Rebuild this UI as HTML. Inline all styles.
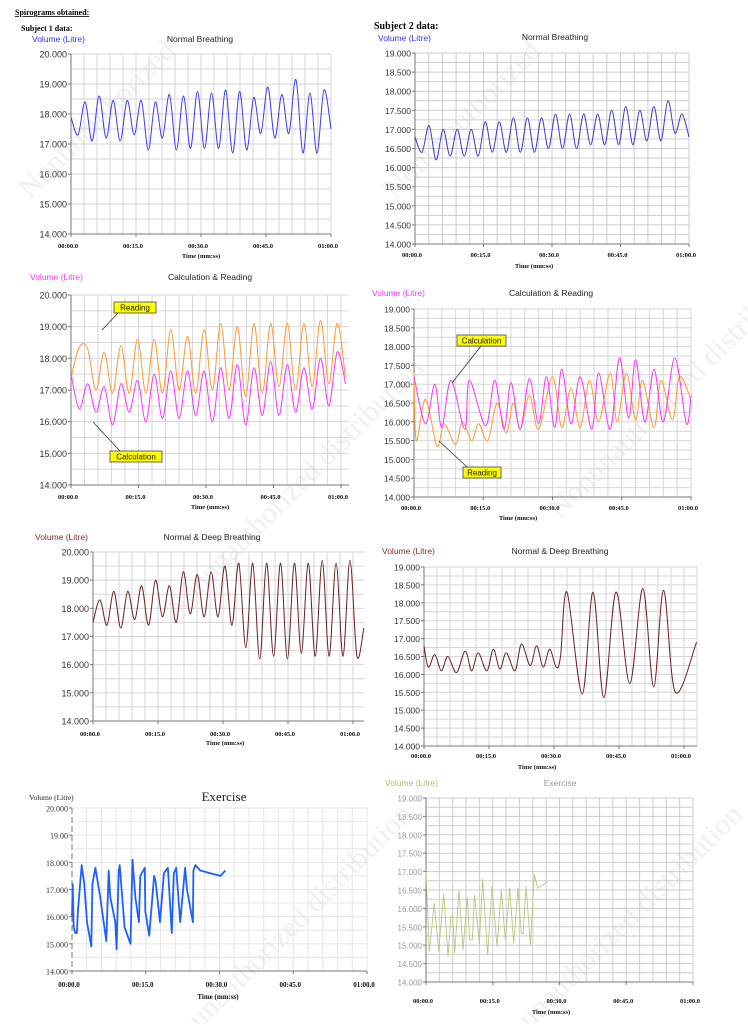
<!DOCTYPE html>
<html><head><meta charset="utf-8">
<style>
html,body{margin:0;padding:0;background:#fff;}
#page{position:relative;width:748px;height:1024px;overflow:hidden;background:#fff;}
svg{position:absolute;left:0;top:0;}
</style></head>
<body>
<div id="page">
<svg id="svg" width="748" height="1024" viewBox="0 0 748 1024">
  <g fill="#f0f0f0" font-family="Liberation Serif, serif" font-size="30">
    <text x="30" y="200" transform="rotate(-45 30 200)">Nonunauthorized</text>
    <text x="395" y="200" transform="rotate(-45 395 200)">Nonunauthorized</text>
    <text x="175" y="620" transform="rotate(-45 175 620)">Nonunauthorized distribution</text>
    <text x="560" y="520" transform="rotate(-45 560 520)">Nonunauthorized distribution</text>
    <text x="200" y="1030" transform="rotate(-45 200 1030)">unauthorized distribution</text>
    <text x="530" y="1030" transform="rotate(-45 530 1030)">unauthorized distribution</text>
  </g>
  <text x="15" y="15" font-family="Liberation Serif, serif" font-weight="bold" font-size="8" text-decoration="underline">Spirograms obtained:</text>
  <text x="21" y="31" font-family="Liberation Serif, serif" font-weight="bold" font-size="8">Subject 1 data:</text>
  <text x="374" y="29" font-family="Liberation Serif, serif" font-weight="bold" font-size="10">Subject 2 data:</text>
</svg>
</div>
<script>
// ---- data arrays ----
const s1NormalValues = [17.9,17.3,18.4,17.1,18.6,17.2,18.45,17.1,18.45,17.3,18.45,16.8,18.4,17.2,18.65,16.8,18.6,16.85,18.75,16.85,18.7,16.85,18.8,16.7,18.75,16.8,18.55,17.35,18.9,17.2,18.65,17.35,19.15,16.7,18.7,16.7,18.8,17.5];
const s2NormalValues = [16.8,16.4,17.1,16.2,17.0,16.3,17.0,16.3,17.0,16.3,17.2,16.4,17.2,16.4,17.3,16.4,17.3,16.4,17.3,16.5,17.4,16.5,17.4,16.5,17.4,16.6,17.4,16.6,17.5,16.6,17.6,16.6,17.5,16.7,17.6,16.7,17.75,16.9,17.4,16.8];
const s1ReadingValues = [17.4,18.35,18.3,17.0,18.2,16.9,18.4,16.9,18.6,16.9,18.6,16.9,18.9,17.0,18.7,16.9,18.9,17.0,19.1,17.0,19.0,16.8,19.1,16.9,19.1,17.1,19.1,17.0,19.1,17.1,19.2,17.2,19.1,17.4];
const s1CalcValues = [17.5,16.4,17.2,16.3,17.1,15.9,17.2,16.3,17.3,16.0,17.5,16.1,17.6,16.1,17.6,16.2,17.6,16.0,17.7,16.1,17.8,15.9,17.7,16.2,17.9,16.2,17.8,16.3,17.7,16.4,18.0,16.5,18.2,17.2];
const s2CalcTimes = [0,2.5,4.5,6,8,11,12,15.5,17.5,19.5,21,23,25,27,28.7,30.5,32,34,36,38.5,40,42.5,44.5,46.5,48,50,52,54,56.5,59,60];
const s2CalcValues = [17.2,15.95,17.0,15.85,17.1,15.8,17.1,15.9,17.1,15.8,17.05,15.8,17.15,15.95,17.2,15.85,17.4,15.95,17.2,15.8,17.3,15.8,17.7,16.1,17.65,16.0,17.4,16.0,17.7,15.95,16.7];
const s2ReadingTimes = [0,0.5,2.5,5,6.5,9,10.5,12.5,14,16,18,20,21.5,23,25,27,30,32,34,36,38,40,42.5,44,46,48,49.5,52,53.5,56,57.5,60];
const s2ReadingValues = [17.3,15.5,16.6,15.35,15.95,15.4,16.0,15.5,15.95,15.5,16.5,15.7,16.5,15.8,16.7,15.8,17.2,15.85,16.9,15.85,17.1,16.0,17.3,16.0,17.3,16.05,17.1,15.85,17.1,16.05,17.2,16.6];
const s1DeepValues = [17.5,18.3,17.4,18.6,17.3,18.6,17.6,18.8,17.4,19.0,17.7,18.8,17.5,19.3,17.8,19.2,17.7,19.3,17.7,19.5,17.4,19.6,16.6,19.6,16.2,19.6,16.3,19.6,16.2,19.6,16.4,19.6,16.3,19.7,16.3,19.6,16.3,19.7,16.3,17.3];
const s2DeepTimes = [0,1,2.5,4,5.5,7.5,9.5,11,12.5,14.5,16,17.5,19,21,22.5,24.5,26,27.5,29,30.5,31.5,33,36.5,39,41.5,44.3,47.5,50.5,53,55.3,58,62.9];
const s2DeepValues = [16.8,16.2,16.55,16.1,16.5,16.05,16.65,16.1,16.6,16.1,16.7,16.15,16.6,16.1,16.85,16.25,16.8,16.2,16.7,16.2,16.5,18.3,15.45,18.3,15.35,18.3,15.75,18.4,15.65,18.35,15.5,16.9];
const s1ExTimes = [0,0.14,0.34,0.68,1.0,1.2,1.97,2.5,3.05,3.93,4.14,4.75,5.76,6.98,7.46,7.8,8.8,9.08,9.5,9.7,10.7,11.9,12.3,12.9,13.6,13.9,14.8,14.9,15.7,16.7,17.0,17.9,18.7,19.5,20.3,20.7,21.2,22.0,23.0,23.4,24.6,24.7,25.1,26.1,28.1,30.2,31.2];
const s1ExValues = [16.0,17.2,15.6,15.4,15.4,16.2,17.9,17.2,15.8,14.9,17.2,17.8,16.7,15.1,17.7,16.7,15.8,14.8,17.7,17.9,15.6,15.0,18.1,16.7,15.8,17.5,17.8,16.2,15.3,17.5,17.3,15.8,17.6,17.8,15.4,17.6,17.8,15.8,17.8,17.0,15.8,17.7,17.9,17.7,17.6,17.5,17.7];
const s2ExTimes = [0,0.75,1.87,2.85,3.97,4.95,5.62,6.0,6.44,7.42,8.31,9.29,9.81,10.4,10.9,11.99,12.73,13.86,14.83,15.96,16.93,17.83,18.8,19.7,20.67,21.42,21.8,22.5,23.45,24.34,25.09,27.34];
const s2ExValues = [17.0,14.83,16.14,14.83,16.4,14.7,15.78,15.8,14.8,16.5,14.87,16.3,15.15,15.15,16.35,15.05,16.8,14.74,16.6,14.97,16.5,15.15,16.55,15.05,16.55,15.33,15.3,16.6,15.0,16.93,16.55,16.73];
const xTickLabels = ["00:00.0","00:15.0","00:30.0","00:45.0","01:00.0"];
const xTickTimes = [0,15,30,45,60];

const NS = "http://www.w3.org/2000/svg";
const svg = document.getElementById('svg');
function mk(tag, attrs, parent){ const e=document.createElementNS(NS,tag); for(const k in attrs) e.setAttribute(k,attrs[k]); (parent||svg).appendChild(e); return e; }

function drawChart(c){
  const g = mk('g',{});
  
  
  const xs = t => c.x0 + t/60*(c.x60 - c.x0);
  const ys = v => c.yb - (v - c.ymin)/(c.ymax - c.ymin)*(c.yb - c.yt);
  const xEnd = c.x1;
  const grid = mk('g',{stroke:c.grid||'#d6d6d6','stroke-width':1},g);
  
  
  for(let t=3; xs(t)<=xEnd+0.5; t+=3){ mk('line',{x1:xs(t),x2:xs(t),y1:c.yt,y2:c.yb},grid); }
  const half = c.step/2;
  for(let v=c.ymin+half; v<=c.ymax+1e-6; v+=half){ mk('line',{x1:c.x0,x2:xEnd,y1:ys(v),y2:ys(v)},grid); }
  const ax = mk('g',{stroke:'#777','stroke-width':1},g);
  
  
  mk('line',{x1:c.x0,x2:c.x0,y1:c.yt,y2:c.yb, 'stroke-dasharray': c.dashY?'6 3':'none'},ax);
  mk('line',{x1:c.x0,x2:xEnd,y1:c.yb,y2:c.yb},ax);
  for(let v=c.ymin; v<=c.ymax+1e-6; v+=c.step){
    mk('line',{x1:c.x0-3,x2:c.x0,y1:ys(v),y2:ys(v)},ax);
    const lbl = (c.yLabelFn?c.yLabelFn(v):v.toFixed(3));
    const tx = mk('text',{x:c.x0-4,y:ys(v)+3.5,'text-anchor':'end','font-size':c.yfs||9,'font-family':c.serif?'Liberation Serif, serif':'Liberation Sans, sans-serif',fill:c.yfill||'#333'},g);
    
    
    tx.textContent = lbl;
  }
  xTickLabels.forEach((l,i)=>{
    const x = xs(xTickTimes[i]);
    mk('line',{x1:x,x2:x,y1:c.yb,y2:c.yb+3},ax);
    const tx = mk('text',{x:x-3,y:c.xly,'text-anchor':'middle','font-size':c.xfs||6.5,'font-weight':'bold','font-family':'Liberation Serif, serif',fill:'#111'},g);
    
    
    tx.textContent = l;
  });
  const xt = mk('text',{x:c.xtx,y:c.xty,'text-anchor':'middle','font-size':c.xfs||6.5,'font-weight':'bold','font-family':'Liberation Serif, serif',fill:'#111'},g);
  
  
  xt.textContent = 'Time (mm:ss)';
  const yt = mk('text',{x:c.ylx,y:c.yly,'font-size':c.ylfs||8.5,'font-family':c.serif?'Liberation Serif, serif':'Liberation Sans, sans-serif',fill:c.ylColor},g);
  
  
  yt.textContent = 'Volume (Litre)';
  const tt = mk('text',{x:c.tx,y:c.ty,'text-anchor':'middle','font-size':c.tfs||8.5,'font-family':c.serif?'Liberation Serif, serif':'Liberation Sans, sans-serif',fill:c.tColor||'#222'},g);
  
  
  tt.textContent = c.title;
  c.series.forEach(s=>{
    const n = s.values.length;
    const pts = s.values.map((v,i)=>[xs(s.times? s.times[i] : s.tEnd*i/(n-1)), ys(v)]);
    let d = 'M'+pts[0][0].toFixed(1)+','+pts[0][1].toFixed(1);
    if(s.smooth){
      for(let i=0;i<n-1;i++){
        const p0=pts[Math.max(0,i-1)],p1=pts[i],p2=pts[i+1],p3=pts[Math.min(n-1,i+2)];
        const c1=[p1[0]+(p2[0]-p0[0])/6,p1[1]+(p2[1]-p0[1])/6];
        const c2=[p2[0]-(p3[0]-p1[0])/6,p2[1]-(p3[1]-p1[1])/6];
        d+=' C'+c1[0].toFixed(1)+','+c1[1].toFixed(1)+' '+c2[0].toFixed(1)+','+c2[1].toFixed(1)+' '+p2[0].toFixed(1)+','+p2[1].toFixed(1);
      }
    } else { for(let i=1;i<n;i++) d+=' L'+pts[i][0].toFixed(1)+','+pts[i][1].toFixed(1); }
    const p = mk('path',{d:d,fill:'none',stroke:s.color,'stroke-width':s.w||1,'stroke-linejoin':'round'},g);
    
    
  });
  (c.notes||[]).forEach(nt=>{
    const ng = mk('g',{},g);
    
    
    mk('line',{x1:nt.lx1,y1:nt.ly1,x2:nt.lx2,y2:nt.ly2,stroke:'#333','stroke-width':0.8},ng);
    mk('rect',{x:nt.x,y:nt.y,width:nt.w,height:11,fill:'#ffff00',stroke:'#444','stroke-width':0.8},ng);
    const t = mk('text',{x:nt.x+nt.w/2,y:nt.y+8.5,'text-anchor':'middle','font-size':8,'font-family':'Liberation Sans, sans-serif',fill:'#111'},ng);
    t.textContent = nt.text;
  });
}

drawChart({name:'s1-normal-breathing-chart',title:'Normal Breathing',x0:71,x60:331,x1:331,yt:54,yb:234,ymin:14,ymax:20,step:1,xly:248,xtx:201,xty:258,ylx:32,yly:42,ylColor:'#3333ff',tx:200,ty:42,
  series:[{name:'s1-normal-line',values:s1NormalValues,tEnd:60,color:'#3a3aff',smooth:true}]});
drawChart({name:'s2-normal-breathing-chart',title:'Normal Breathing',x0:415,x60:689,x1:689,yt:53,yb:244,ymin:14,ymax:19,step:0.5,xly:257,xtx:534,xty:268,ylx:378,yly:41,ylColor:'#3333ff',tx:555,ty:40,yfs:8.5,grid:'#cdcdcd',
  series:[{name:'s2-normal-line',values:s2NormalValues,tEnd:60,color:'#3a3acc',smooth:true}]});
drawChart({name:'s1-calculation-reading-chart',title:'Calculation & Reading',x0:71,x60:341,x1:349,yt:295,yb:485,ymin:14,ymax:20,step:1,xly:499,xtx:210,xty:509,ylx:30,yly:280,ylColor:'#ff33ff',tx:210,ty:280,
  series:[{name:'s1-reading-line',values:s1ReadingValues,tEnd:61,color:'#ff9933',smooth:true},{name:'s1-calculation-line',values:s1CalcValues,tEnd:61,color:'#ff33ff',smooth:true}],
  notes:[{name:'reading-callout',text:'Reading',x:114,y:302,w:42,lx1:118,ly1:313,lx2:102,ly2:330},{name:'calculation-callout',text:'Calculation',x:110,y:451,w:52,lx1:120,ly1:451,lx2:93,ly2:422}]});
drawChart({name:'s2-calculation-reading-chart',title:'Calculation & Reading',x0:414,x60:691,x1:691,yt:309,yb:497,ymin:14,ymax:19,step:0.5,xly:510,xtx:518,xty:520,ylx:372,yly:296,ylColor:'#ff33ff',tx:551,ty:296,yfs:8.5,
  series:[{name:'s2-reading-line',values:s2ReadingValues,times:s2ReadingTimes,color:'#ff9933',smooth:true},{name:'s2-calculation-line',values:s2CalcValues,times:s2CalcTimes,color:'#ff33ff',smooth:true}],
  notes:[{name:'calculation-callout',text:'Calculation',x:457,y:335,w:49,lx1:481,ly1:346,lx2:452,ly2:383},{name:'reading-callout',text:'Reading',x:463,y:467,w:38,lx1:467,ly1:467,lx2:439,ly2:441}]});
drawChart({name:'s1-normal-deep-breathing-chart',title:'Normal & Deep Breathing',x0:93,x60:353,x1:364,yt:552,yb:721,ymin:14,ymax:20,step:1,xly:736,xtx:225,xty:745,ylx:35,yly:540,ylColor:'#8b2b2b',tx:212,ty:540,
  series:[{name:'s1-deep-line',values:s1DeepValues,tEnd:62.5,color:'#6b1f1f',smooth:true}]});
drawChart({name:'s2-normal-deep-breathing-chart',title:'Normal & Deep Breathing',x0:424,x60:684,x1:697,yt:567,yb:746,ymin:14,ymax:19,step:0.5,xly:758,xtx:537,xty:769,ylx:382,yly:554,ylColor:'#8b2b2b',tx:560,ty:554,yfs:8.5,
  series:[{name:'s2-deep-line',values:s2DeepValues,times:s2DeepTimes,color:'#6b1f1f',smooth:true}]});
drawChart({name:'s1-exercise-chart',title:'Exercise',x0:72,x60:367,x1:367,yt:808,yb:971,ymin:14,ymax:20,step:1,xly:987,xtx:218,xty:999,ylx:29,yly:800,ylColor:'#222',tx:224,ty:801,tfs:13,ylfs:7.5,yfs:8,serif:true,dashY:true,grid:'#e6e6e6',xfs:7,
  yLabelFn:v=>(Math.abs(v-19)<1e-6?'19.00':v.toFixed(3)),
  series:[{name:'s1-exercise-line',values:s1ExValues,times:s1ExTimes,color:'#1f5fff',w:1.8,smooth:false}]});
drawChart({name:'s2-exercise-chart',title:'Exercise',x0:426,x60:693,x1:693,yt:798,yb:982,ymin:14,ymax:19,step:0.5,xly:1003,xtx:551,xty:1014,ylx:385,yly:786,ylColor:'#a8c060',tx:560,ty:786,tColor:'#999',yfs:8,yfill:'#999',grid:'#cdcdcd',
  series:[{name:'s2-exercise-line',values:s2ExValues,times:s2ExTimes,color:'#b5c97d',w:0.9,smooth:false}]});
</script>
</body></html>
